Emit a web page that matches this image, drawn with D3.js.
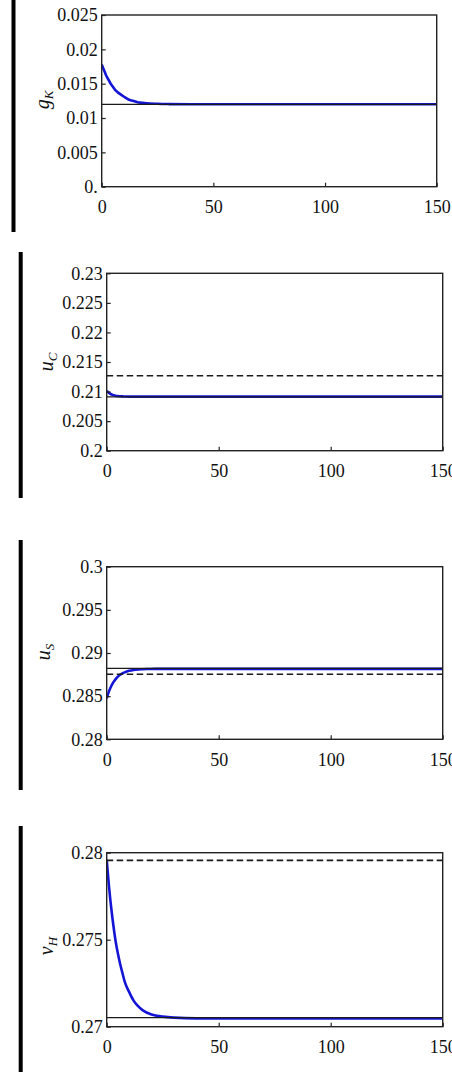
<!DOCTYPE html>
<html>
<head>
<meta charset="utf-8">
<script src="https://cdn.jsdelivr.net/npm/d3@7"></script>
<style>
	body { margin: 0; background: #fff; }
	svg { display: block; }
	.tick text { font-family: "Liberation Serif", Tinos, "Times New Roman", Times, "DejaVu Serif", serif; font-size: 18px; fill: #111; }
	.tick line { stroke: #222; stroke-width: 1.2; }
	.ylab { font-family: "Liberation Serif", Tinos, "Times New Roman", Times, "DejaVu Serif", serif; font-style: italic; fill: #111; }
</style>
</head>
<body>
<script>
'use strict';

// time points (shared by all panels)
const time = [0, 1, 2, 3, 4, 5, 6, 7, 8, 10, 12, 14, 16, 18, 20, 25, 30, 40, 60, 80, 100, 120, 150];

// transition paths
const gK = [0.0178, 0.0170, 0.0162, 0.0156, 0.0150, 0.01455, 0.0141, 0.0138, 0.01355, 0.0131, 0.0127, 0.0125, 0.0123, 0.01222, 0.01215, 0.01207, 0.01203, 0.0120, 0.0120, 0.0120, 0.0120, 0.0120, 0.0120];
const uC = [0.2101, 0.20978, 0.20955, 0.2094, 0.2093, 0.20924, 0.2092, 0.20918, 0.20917, 0.20915, 0.20915, 0.20915, 0.20915, 0.20915, 0.20915, 0.20915, 0.20915, 0.20915, 0.20915, 0.20915, 0.20915, 0.20915, 0.20915];
const uS = [0.28475, 0.28555, 0.28615, 0.28662, 0.28698, 0.28726, 0.28748, 0.28764, 0.28776, 0.28793, 0.28803, 0.28809, 0.28812, 0.28814, 0.28815, 0.28816, 0.28816, 0.28816, 0.28816, 0.28816, 0.28816, 0.28816, 0.28816];
const vH = [0.2796, 0.2781, 0.27685, 0.2758, 0.2749, 0.2742, 0.2736, 0.2731, 0.2726, 0.2720, 0.2715, 0.27118, 0.27095, 0.2708, 0.2707, 0.27058, 0.27052, 0.27048, 0.27048, 0.27048, 0.27048, 0.27048, 0.27048];

// reference levels: solid = new steady state, dashed = old steady state
const solidLevel = [0.0120, 0.2091, 0.28823, 0.27052];
const dashedLevel = [null, 0.21268, 0.28753, 0.27956];

// tick values and labels
const xTicks = [0, 50, 100, 150];
const yTicks = [
	[0, 0.005, 0.01, 0.015, 0.02, 0.025],
	[0.2, 0.205, 0.21, 0.215, 0.22, 0.225, 0.23],
	[0.28, 0.285, 0.29, 0.295, 0.3],
	[0.27, 0.275, 0.28]
];
const yLabels = [
	["0.", "0.005", "0.01", "0.015", "0.02", "0.025"],
	["0.2", "0.205", "0.21", "0.215", "0.22", "0.225", "0.23"],
	["0.28", "0.285", "0.29", "0.295", "0.3"],
	["0.27", "0.275", "0.28"]
];
const yNames = [["g", "K"], ["u", "C"], ["u", "S"], ["v", "H"]];
const series = [gK, uC, uS, vH];

// layout of each frame (pixels)
const panels = [
	{ l: 101.7, r: 436.7, t: 15, b: 186.7, lab: [43, 100], bar: [13.5, 0, 232] },
	{ l: 106.7, r: 442.7, t: 273.3, b: 450.7, lab: [47, 362], bar: [20.7, 252, 498] },
	{ l: 106.7, r: 442.7, t: 566.7, b: 739.3, lab: [44, 652], bar: [20.7, 540, 790] },
	{ l: 106.7, r: 442.7, t: 852.7, b: 1026.7, lab: [47, 946], bar: [20.7, 826, 1072] }
];

const W = 452, H = 1083;
const svg = d3.select("body").append("svg").attr("width", W).attr("height", H);

panels.forEach(function(p, i){
	let x = d3.scaleLinear().domain([0, 150]).range([p.l, p.r]);
	let yt = yTicks[i];
	let y = d3.scaleLinear().domain([yt[0], yt[yt.length - 1]]).range([p.b, p.t]);

	// side bar
	svg.append("rect")
		.attr("x", p.bar[0] - 2).attr("y", p.bar[1])
		.attr("width", 4).attr("height", p.bar[2] - p.bar[1])
		.attr("fill", "#000");

	let clipId = "clip" + i;
	svg.append("clipPath").attr("id", clipId)
		.append("rect")
		.attr("x", p.l).attr("y", p.t)
		.attr("width", p.r - p.l).attr("height", p.b - p.t);

	let g = svg.append("g").attr("clip-path", "url(#" + clipId + ")");

	let pts = time.map(function(t, k){ return [t, series[i][k]]; });
	let line = d3.line()
		.x(function(d){ return x(d[0]); })
		.y(function(d){ return y(d[1]); })
		.curve(d3.curveMonotoneX);

	g.append("path")
		.datum(pts)
		.attr("d", line)
		.attr("fill", "none")
		.attr("stroke", "#1414d6")
		.attr("stroke-width", 2.6);

	g.append("line")
		.attr("x1", x(0)).attr("x2", x(150))
		.attr("y1", y(solidLevel[i])).attr("y2", y(solidLevel[i]))
		.attr("stroke", "#1a1a1a").attr("stroke-width", 1.2);

	if (dashedLevel[i] != null){
		g.append("line")
			.attr("x1", x(0)).attr("x2", x(150))
			.attr("y1", y(dashedLevel[i])).attr("y2", y(dashedLevel[i]))
			.attr("stroke", "#1a1a1a").attr("stroke-width", 1.6)
			.attr("stroke-dasharray", "6.5,3.5");
	}

	// axes with inward ticks
	let ya = d3.axisLeft(y)
		.tickValues(yt)
		.tickFormat(function(d, k){ return yLabels[i][k]; })
		.tickSizeInner(-4).tickSizeOuter(0).tickPadding(4);
	let yg = svg.append("g").attr("transform", "translate(" + p.l + ",0)").call(ya);
	yg.attr("font-family", null);
	yg.select(".domain").remove();

	let xa = d3.axisBottom(x)
		.tickValues(xTicks)
		.tickFormat(d3.format("d"))
		.tickSizeInner(-4).tickSizeOuter(0).tickPadding(14);
	let xg = svg.append("g").attr("transform", "translate(0," + p.b + ")").call(xa);
	xg.attr("font-family", null);
	xg.select(".domain").remove();

	// frame
	svg.append("rect")
		.attr("x", p.l).attr("y", p.t)
		.attr("width", p.r - p.l).attr("height", p.b - p.t)
		.attr("fill", "none").attr("stroke", "#222").attr("stroke-width", 1.4);

	// axis title
	let txt = svg.append("text")
		.attr("class", "ylab")
		.attr("transform", "translate(" + p.lab[0] + "," + p.lab[1] + ") rotate(-90)")
		.attr("text-anchor", "middle")
		.attr("dy", "0.3em")
		.style("font-size", "20px");
	txt.append("tspan").text(yNames[i][0]);
	txt.append("tspan").attr("dy", "0.3em").style("font-size", "13px").text(yNames[i][1]);
});
</script>
</body>
</html>
